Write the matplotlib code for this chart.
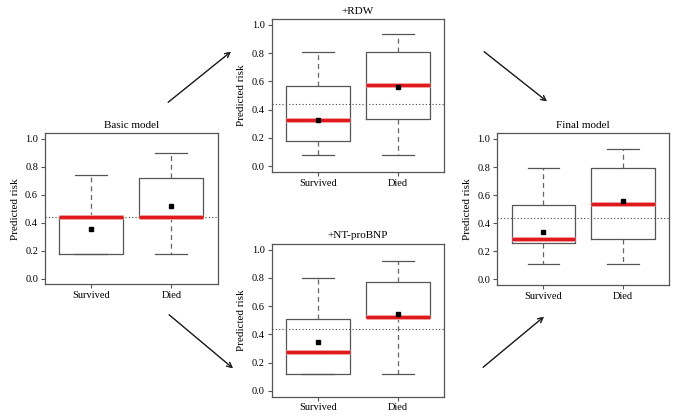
import matplotlib.pyplot as plt
import matplotlib.patheffects as pe

plt.rcParams['font.family'] = ['Liberation Serif', 'DejaVu Serif']

groups = ['Survived', 'Died']
ref_line = 0.44

# per panel: [survived, died]
titles = ['Basic model', '+RDW', '+NT-proBNP', 'Final model']
whislo = [[0.18, 0.18], [0.076, 0.076], [0.12, 0.118], [0.109, 0.109]]
q1 = [[0.18, 0.44], [0.18, 0.335], [0.12, 0.52], [0.256, 0.284]]
med = [[0.44, 0.44], [0.326, 0.574], [0.278, 0.523], [0.284, 0.537]]
q3 = [[0.44, 0.72], [0.57, 0.81], [0.511, 0.772], [0.533, 0.793]]
whishi = [[0.74, 0.90], [0.81, 0.934], [0.80, 0.92], [0.796, 0.928]]
means = [[0.357, 0.519], [0.326, 0.558], [0.346, 0.541], [0.334, 0.556]]

# axes rectangles in figure pixels: left, top, right, bottom
W, H = 677, 419
rects = [(45, 133.3, 217.7, 284.3),
         (271.7, 19.3, 444, 171.7),
         (271.7, 244, 444, 396.5),
         (497.3, 133.3, 669.3, 285)]

fig = plt.figure(figsize=(W / 100, H / 100), dpi=100)

frame_col = '#555555'
for i, (l, t, r, b) in enumerate(rects):
    ax = fig.add_axes([l / W, 1 - b / H, (r - l) / W, (b - t) / H])
    stats = []
    for j, g in enumerate(groups):
        stats.append(dict(label=g, whislo=whislo[i][j], q1=q1[i][j], med=med[i][j],
                          q3=q3[i][j], whishi=whishi[i][j], mean=means[i][j], fliers=[]))
    ax.axhline(ref_line, color='#444444', lw=0.8, ls=(0, (1, 2)), zorder=1)
    ax.bxp(stats, positions=[1, 2], widths=0.8, showmeans=True,
           boxprops=dict(color=frame_col, lw=0.9),
           whiskerprops=dict(color='#666666', lw=0.9, ls=(0, (4, 3))),
           capprops=dict(color=frame_col, lw=0.9),
           capwidths=0.4,
           medianprops=dict(color='#e0191c', lw=2.2, solid_capstyle='butt',
                            path_effects=[pe.Stroke(linewidth=3.6, foreground='#f5a3a3'), pe.Normal()]),
           meanprops=dict(marker='s', markerfacecolor='black', markeredgecolor='black',
                          markersize=3))
    ax.set_xlim(0.42, 2.58)
    ax.set_ylim(-0.04, 1.04)
    ax.set_yticks([0.0, 0.2, 0.4, 0.6, 0.8, 1.0])
    ax.set_yticklabels(['0.0', '0.2', '0.4', '0.6', '0.8', '1.0'])
    ax.tick_params(labelsize=7.5, length=3, width=0.8, color=frame_col, pad=2)
    for s in ax.spines.values():
        s.set_color(frame_col)
        s.set_linewidth(0.9)
    ax.set_ylabel('Predicted risk', fontsize=8, labelpad=4)
    ax.set_title(titles[i], fontsize=8, pad=4)

# arrows between panels (figure pixels)
arrows = [((166, 104), (233, 50)),
          ((482, 50), (549, 103)),
          ((167, 313), (235, 370)),
          ((481, 369), (546, 315))]
for (x0, y0), (x1, y1) in arrows:
    fig.add_artist(plt.annotate('', xy=(x1 / W, 1 - y1 / H), xytext=(x0 / W, 1 - y0 / H),
                                xycoords='figure fraction', textcoords='figure fraction',
                                arrowprops=dict(arrowstyle='->', color='#222222', lw=0.8,
                                                mutation_scale=9)))

fig.savefig('out.png', dpi=100)
